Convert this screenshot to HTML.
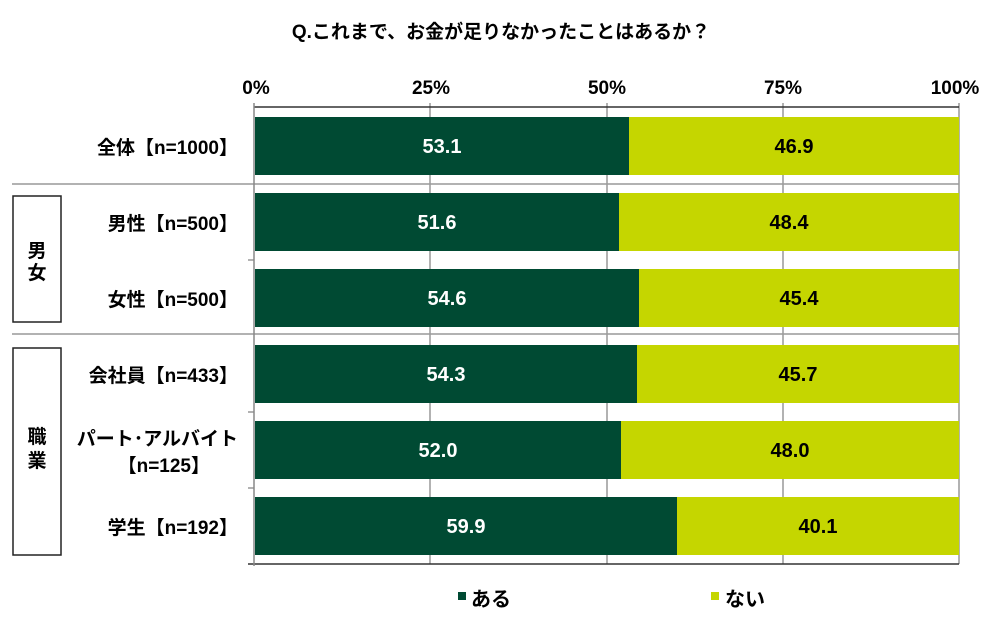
<!DOCTYPE html>
<html><head><meta charset="utf-8"><style>
html,body{margin:0;padding:0;background:#fff;}
svg{display:block;font-family:"Liberation Sans","Noto Sans CJK JP",sans-serif;font-weight:bold;}
</style></head><body>
<svg width="1000" height="624" viewBox="0 0 1000 624" xmlns="http://www.w3.org/2000/svg">
<text x="501" y="38" font-size="19" text-anchor="middle" fill="#000">Q.これまで、お金が足りなかったことはあるか？</text>
<g font-size="19" text-anchor="middle" fill="#000">
<text x="256" y="94">0%</text><text x="431" y="94">25%</text><text x="607" y="94">50%</text><text x="783" y="94">75%</text><text x="955" y="94">100%</text>
</g>
<g stroke="#999" stroke-width="1.5">
<line x1="430" y1="103" x2="430" y2="564"/><line x1="607" y1="103" x2="607" y2="564"/><line x1="783" y1="103" x2="783" y2="564"/><line x1="959" y1="103" x2="959" y2="564"/>
<line x1="12" y1="184" x2="959" y2="184"/><line x1="12" y1="334" x2="959" y2="334"/>
<line x1="248" y1="260" x2="254" y2="260"/><line x1="248" y1="412" x2="254" y2="412"/><line x1="248" y1="488" x2="254" y2="488"/>
</g>
<line x1="254" y1="107" x2="959" y2="107" stroke="#333" stroke-width="1.5"/>
<line x1="248" y1="564" x2="959" y2="564" stroke="#333" stroke-width="1.5"/>
<line x1="254" y1="103" x2="254" y2="566" stroke="#888" stroke-width="1.5"/>
<g>
<rect x="255" y="117" width="374" height="58" fill="#004a33"/><rect x="629" y="117" width="330" height="58" fill="#c5d600"/>
<rect x="255" y="193" width="364" height="58" fill="#004a33"/><rect x="619" y="193" width="340" height="58" fill="#c5d600"/>
<rect x="255" y="269" width="384" height="58" fill="#004a33"/><rect x="639" y="269" width="320" height="58" fill="#c5d600"/>
<rect x="255" y="345" width="382" height="58" fill="#004a33"/><rect x="637" y="345" width="322" height="58" fill="#c5d600"/>
<rect x="255" y="421" width="366" height="58" fill="#004a33"/><rect x="621" y="421" width="338" height="58" fill="#c5d600"/>
<rect x="255" y="497" width="422" height="58" fill="#004a33"/><rect x="677" y="497" width="282" height="58" fill="#c5d600"/>
</g>
<g font-size="20" text-anchor="middle">
<text x="442" y="153" fill="#fff">53.1</text><text x="794" y="153" fill="#000">46.9</text>
<text x="437" y="229" fill="#fff">51.6</text><text x="789" y="229" fill="#000">48.4</text>
<text x="447" y="305" fill="#fff">54.6</text><text x="799" y="305" fill="#000">45.4</text>
<text x="446" y="381" fill="#fff">54.3</text><text x="798" y="381" fill="#000">45.7</text>
<text x="438" y="457" fill="#fff">52.0</text><text x="790" y="457" fill="#000">48.0</text>
<text x="466" y="533" fill="#fff">59.9</text><text x="818" y="533" fill="#000">40.1</text>
</g>
<g font-size="19" text-anchor="end" fill="#000">
<text x="238" y="154">全体【n=1000】</text>
<text x="238" y="230">男性【n=500】</text>
<text x="238" y="306">女性【n=500】</text>
<text x="238" y="382">会社員【n=433】</text>
<text x="238" y="445">パート･アルバイト</text>
<text x="210" y="472">【n=125】</text>
<text x="238" y="534">学生【n=192】</text>
</g>
<g fill="none" stroke="#222" stroke-width="1.5">
<rect x="13" y="196" width="48" height="126"/>
<rect x="13" y="348" width="48" height="207"/>
</g>
<g font-size="19" text-anchor="middle" fill="#000">
<text x="37" y="257">男</text><text x="37" y="279">女</text>
<text x="37" y="443">職</text><text x="37" y="467">業</text>
</g>
<rect x="458" y="592" width="8" height="8" fill="#004a33"/>
<text x="471" y="606" font-size="20" fill="#000">ある</text>
<rect x="711" y="592" width="8" height="8" fill="#c5d600"/>
<text x="725" y="606" font-size="20" fill="#000">ない</text>
</svg>
</body></html>
